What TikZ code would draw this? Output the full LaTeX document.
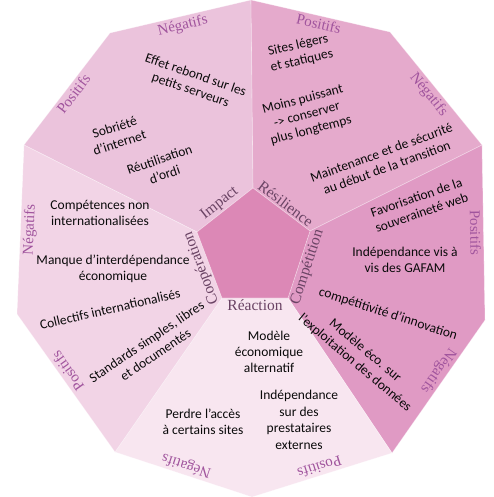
\documentclass[tikz,border=0pt]{standalone}
\usepackage{fontspec}
\setmainfont{Carlito}
\newfontfamily\lblfont{Liberation Serif}
\usetikzlibrary{calc}
\definecolor{secImp}{HTML}{EBC3DC}
\definecolor{secRes}{HTML}{E5AACC}
\definecolor{secCmp}{HTML}{E09AC4}
\definecolor{secRea}{HTML}{F8E6F0}
\definecolor{secCoo}{HTML}{F2D4E6}
\definecolor{core}{HTML}{DC88B6}
\definecolor{edgeink}{HTML}{A0549D}
\definecolor{secink}{HTML}{6A4364}
\definecolor{ink}{HTML}{0A0A0A}
\tikzset{
  sector/.style={draw=white,draw opacity=0.4,line width=0.6pt},
  txt/.style={font=\fontsize{13.5}{16}\selectfont,text=ink,align=center,inner sep=0pt},
  edgelbl/.style={font=\lblfont\fontsize{15}{15}\selectfont,text=edgeink,sloped,allow upside down,inner sep=2.5pt},
  seclbl/.style={font=\lblfont\fontsize{15.5}{15.5}\selectfont,text=secink,sloped,allow upside down,inner sep=1.5pt},
}

\begin{document}
\begin{tikzpicture}[x=1pt,y=-1pt]
  \useasboundingbox (0,0) rectangle (494,497);
  % outer decagon
  \coordinate (oN)  at (251,0);
  \coordinate (oNE) at (390,32);
  \coordinate (oE1) at (482,145);
  \coordinate (oE2) at (485,320);
  \coordinate (oSE) at (392,453);
  \coordinate (oS)  at (252,497);
  \coordinate (oSW) at (115,452);
  \coordinate (oW2) at (17,314);
  \coordinate (oW1) at (24,145);
  \coordinate (oNW) at (110,33);
  % inner pentagon
  \coordinate (cN)  at (253,188);
  \coordinate (cE)  at (310,231);
  \coordinate (cSE) at (288,298);
  \coordinate (cSW) at (222,298);
  \coordinate (cW)  at (197,232);

  \filldraw[sector,fill=secImp] (cN) -- (oN) -- (oNW) -- (oW1) -- (cW) -- cycle;
  \filldraw[sector,fill=secRes] (cN) -- (oN) -- (oNE) -- (oE1) -- (cE) -- cycle;
  \filldraw[sector,fill=secCmp] (cE) -- (oE1) -- (oE2) -- (oSE) -- (cSE) -- cycle;
  \filldraw[sector,fill=secRea] (cSE) -- (oSE) -- (oS) -- (oSW) -- (cSW) -- cycle;
  \filldraw[sector,fill=secCoo] (cSW) -- (oSW) -- (oW2) -- (oW1) -- (cW) -- cycle;
  \filldraw[sector,fill=core] (cN) -- (cE) -- (cSE) -- (cSW) -- (cW) -- cycle;

  % outer labels
  \path (oW1) -- node[edgelbl,below]{Positifs} (oNW);
  \path (oNW) -- node[edgelbl,below]{Négatifs} (oN);
  \path (oN)  -- node[edgelbl,below]{Positifs} (oNE);
  \path (oNE) -- node[edgelbl,below]{Négatifs} (oE1);
  \path (oE1) -- node[edgelbl,below]{Positifs} (oE2);
  \path (oE2) -- node[edgelbl,below,pos=0.42]{Négatifs} (oSE);
  \path (oSE) -- node[edgelbl,below]{Positifs} (oS);
  \path (oS)  -- node[edgelbl,below]{Négatifs} (oSW);
  \path (oSW) -- node[edgelbl,below,pos=0.55]{Positifs} (oW2);
  \path (oW2) -- node[edgelbl,below]{Négatifs} (oW1);

  % sector names
  \path (cW)  -- node[seclbl,above]{Impact} (cN);
  \path (cN)  -- node[seclbl,above]{Résilience} (cE);
  \path (cSE) -- node[seclbl,below]{Compétition} (cE);
  \path (cSW) -- node[seclbl,below]{Réaction} (cSE);
  \path (cSW) -- node[seclbl,above]{Coopération} (cW);

  % impact
  \node[txt,rotate=-19] (rebond) at (193,83) {Effet rebond sur les\\petits serveurs};
  \node[txt,rotate=18] (sobriete) at (117,135) {Sobriété\\d’internet};
  \node[txt,rotate=19] (reutil) at (162,167) {Réutilisation\\d’ordi};
  % resilience
  \node[txt,rotate=13] (legers) at (300,53) {Sites légers\\et statiques};
  \node[txt,rotate=15] (puissant) at (307,115) {Moins puissant\\-> conserver\\plus longtemps};
  \node[txt,rotate=20] (maint) at (384,160) {Maintenance et de sécurité\\au début de la transition};
  % competition
  \node[txt,rotate=19] (souv) at (419,205) {Favorisation de la\\souveraineté web};
  \node[txt] (gafam) at (405,260) {Indépendance vis à\\vis des GAFAM};
  \node[txt,rotate=-18] (innov) at (388,314) {compétitivité d'innovation};
  \node[txt,rotate=-40] (donnees) at (360,357) {Modèle éco. sur\\l’exploitation des données};
  % reaction
  \node[txt] (modele) at (269,352) {Modèle\\économique\\alternatif};
  \node[txt,font=\fontsize{13.5}{16.7}\selectfont] (presta) at (299,420) {Indépendance\\sur des\\prestataires\\externes};
  \node[txt] (acces) at (203,422) {Perdre l'accès\\à certains sites};
  % cooperation
  \node[txt] (compet) at (100,213) {Compétences non\\internationalisées};
  \node[txt] (interdep) at (113,269) {Manque d’interdépendance\\économique};
  \node[txt,rotate=13] (collectifs) at (110,309) {Collectifs internationalisés};
  \node[txt,rotate=34] (standards) at (151,348) {Standards simples, libres\\et documentés};
\end{tikzpicture}
\end{document}
